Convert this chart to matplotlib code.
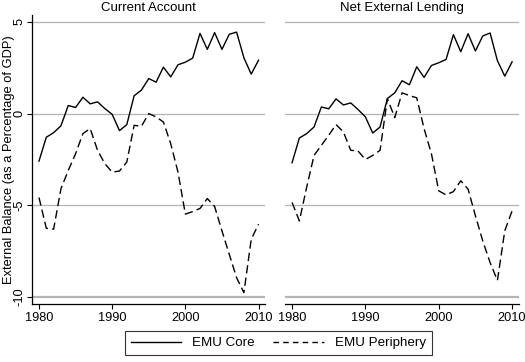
import matplotlib
matplotlib.use('Agg')
import matplotlib.pyplot as plt
from matplotlib.lines import Line2D

plt.rcParams['font.family'] = ['Liberation Sans', 'DejaVu Sans']

YEARS = list(range(1980, 2011))

# Current account (% of GDP)
CA_CORE = [-2.59, -1.29, -1.04, -0.67, 0.44, 0.33, 0.89, 0.53, 0.64, 0.27,
           -0.04, -0.93, -0.60, 0.97, 1.28, 1.91, 1.71, 2.53, 2.00, 2.66,
           2.80, 3.02, 4.37, 3.50, 4.41, 3.50, 4.32, 4.44, 3.04, 2.15, 2.91]
CA_PERI = [-4.57, -6.25, -6.30, -4.10, -3.10, -2.19, -1.09, -0.82, -2.00, -2.73,
           -3.19, -3.13, -2.64, -0.64, -0.69, 0.00, -0.18, -0.46, -1.64, -3.20,
           -5.48, -5.34, -5.17, -4.63, -5.06, -6.39, -7.67, -8.94, -9.76, -6.85, -6.03]

# Net external lending (% of GDP)
NL_CORE = [-2.68, -1.33, -1.09, -0.73, 0.36, 0.26, 0.80, 0.47, 0.58, 0.22,
           -0.18, -1.06, -0.73, 0.82, 1.13, 1.79, 1.57, 2.55, 1.97, 2.62,
           2.77, 2.95, 4.30, 3.37, 4.35, 3.41, 4.23, 4.39, 2.88, 2.04, 2.82]
NL_PERI = [-4.84, -5.85, -4.00, -2.28, -1.73, -1.18, -0.60, -1.00, -2.00, -2.04,
           -2.50, -2.28, -2.00, 0.82, -0.22, 1.13, 0.98, 0.86, -0.82, -2.19,
           -4.21, -4.43, -4.25, -3.66, -4.12, -5.57, -6.94, -8.12, -9.09, -6.39, -5.30]

TITLES = ['Current Account', 'Net External Lending']
YTICKS = [5, 0, -5, -10]
XTICKS = [1980, 1990, 2000, 2010]

GRID = '#b4b4b4'


def main():
    fig = plt.figure(figsize=(5.25, 3.62), dpi=100)
    ax1 = fig.add_axes([0.061, 0.160, 0.444, 0.799])
    ax2 = fig.add_axes([0.543, 0.160, 0.445, 0.799])

    panels = [(ax1, CA_CORE, CA_PERI), (ax2, NL_CORE, NL_PERI)]
    for i, (ax, core, peri) in enumerate(panels):
        for y in YTICKS:
            ax.axhline(y, color=GRID, lw=1.6 if y == -10 else 0.9, zorder=0)
        ax.plot(YEARS, core, color='black', lw=1.0, zorder=2)
        ax.plot(YEARS, peri, color='black', lw=1.0, dashes=(6, 3), zorder=2)
        ax.set_xlim(1979.05, 2010.9)
        ax.set_ylim(-10.38, 5.38)
        ax.set_xticks(XTICKS)
        ax.set_xticklabels([str(x) for x in XTICKS], fontsize=9.2)
        ax.set_title(TITLES[i], fontsize=9.5, pad=3)
        for s in ['top', 'right']:
            ax.spines[s].set_visible(False)
        ax.spines['bottom'].set_linewidth(0.9)
        ax.tick_params(axis='x', length=3.5, width=0.8, pad=2)
        if i == 0:
            ax.set_yticks(YTICKS)
            ax.set_yticklabels([str(y) for y in YTICKS], fontsize=9.2,
                               rotation=90, va='center')
            ax.tick_params(axis='y', length=3.5, width=0.8, pad=1)
            ax.spines['left'].set_linewidth(0.9)
        else:
            ax.spines['left'].set_visible(False)
            ax.set_yticks([])

    fig.text(0.017, 0.559, 'External Balance (as a Percentage of GDP)',
             rotation=90, ha='center', va='center', fontsize=9.3)

    handles = [Line2D([], [], color='black', lw=1.0, label='EMU Core'),
               Line2D([], [], color='black', lw=1.0, dashes=(4, 3),
                      label='EMU Periphery')]
    leg = fig.legend(handles=handles, loc='lower center', ncol=2,
                     bbox_to_anchor=(0.530, 0.0), fontsize=9.6,
                     frameon=True, fancybox=False, edgecolor='black',
                     handlelength=3.8, columnspacing=1.4, borderpad=0.45,
                     handletextpad=0.8)
    leg.get_frame().set_linewidth(0.8)

    fig.savefig('out.png', dpi=100, facecolor='white')
    plt.close(fig)


if __name__ == '__main__':
    main()
